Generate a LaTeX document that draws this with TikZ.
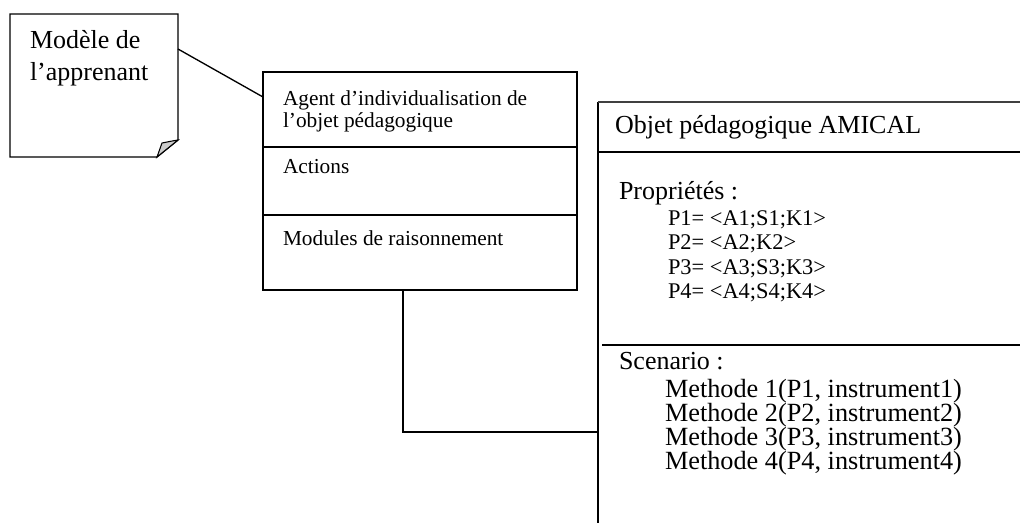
\documentclass[tikz,border=0pt]{standalone}
\usepackage{fontspec}
\setmainfont{Liberation Serif}
\usetikzlibrary{calc}
\begin{document}
\begin{tikzpicture}[x=0.75pt,y=-0.75pt,
  line width=1pt,
  frame/.style={inner sep=0pt, outer sep=0pt, anchor=north west},
  txt/.style={inner sep=0pt, outer sep=0pt, anchor=base west},
  big/.style={txt, font=\fontsize{19.5pt}{24pt}\selectfont},
  mid/.style={txt, font=\fontsize{19.7pt}{24pt}\selectfont},
  small/.style={txt, font=\fontsize{16.8pt}{19pt}\selectfont},
  agentfont/.style={txt, font=\fontsize{16pt}{19pt}\selectfont},
  rule/.style={line width=2pt}]
\useasboundingbox (0,0) rectangle (1020,522);

% learner model: a note with a folded corner
\node[frame, minimum width=126pt, minimum height=107.25pt] (note) at (10,14) {};
\draw (note.north west) -- (note.north east) -- ($(note.south east)+(0,-17)$)
      -- ($(note.south east)+(-21,0)$) -- (note.south west) -- cycle;
\draw[fill=gray!40, line width=0.8pt] ($(note.south east)+(0,-17)$)
      .. controls ($(note.south east)+(-6,-16)$) .. ($(note.south east)+(-16,-14)$)
      -- ($(note.south east)+(-21,0)$) -- cycle;
\node[big] (n1) at (30,48) {Modèle de};
\node[big] (n2) at (30,80) {l’apprenant};

% individualisation agent
\node[frame, draw, minimum width=235.5pt, minimum height=163.5pt] (agent) at (263,72) {};
\draw (agent.west |- 0,147) -- (agent.east |- 0,147);
\draw (agent.west |- 0,215) -- (agent.east |- 0,215);
\node[agentfont] (a1) at (283,105) {Agent d’individualisation de};
\node[agentfont] (a2) at (283,127) {l’objet pédagogique};
\node[agentfont] (a3) at (283,173) {Actions};
\node[agentfont] (a4) at (283,245) {Modules de raisonnement};

% AMICAL pedagogical object (open to the right and below)
\node[frame, minimum width=318pt, minimum height=316.5pt] (objet) at (598,102) {};
\draw (objet.south west) -- (objet.north west);
\draw[line width=0.8pt, black!75] (objet.north west) -- (objet.north east);
\draw[rule] (objet.west |- 0,152) -- (objet.east |- 0,152);
\draw[rule] ($(objet.west |- 0,345)+(4,0)$) -- (objet.east |- 0,345);
\node[big] (o1) at (615,133) {Objet pédagogique AMICAL};
\node[big] (o2) at (619,199) {Propriétés :};
\node[small] (p1) at (668,225) {P1= <A1;S1;K1>};
\node[small] (p2) at (668,249) {P2= <A2;K2>};
\node[small] (p3) at (668,274) {P3= <A3;S3;K3>};
\node[small] (p4) at (668,298) {P4= <A4;S4;K4>};
\node[big] (o3) at (619,369) {Scenario :};
\node[mid] (m1) at (665,397) {Methode 1(P1, instrument1)};
\node[mid] (m2) at (665,421) {Methode 2(P2, instrument2)};
\node[mid] (m3) at (665,445) {Methode 3(P3, instrument3)};
\node[mid] (m4) at (665,469) {Methode 4(P4, instrument4)};

% connectors
\coordinate (noteout) at ($(note.north east)+(0,35)$);
\coordinate (agentin) at ($(agent.north west)+(0,25)$);
\draw (noteout) -- (agentin);
\coordinate (agentout) at ($(agent.south west)+(140,0)$);
\coordinate (objetin) at ($(objet.north west)+(0,330)$);
\draw (agentout) |- (objetin);
\end{tikzpicture}
\end{document}
